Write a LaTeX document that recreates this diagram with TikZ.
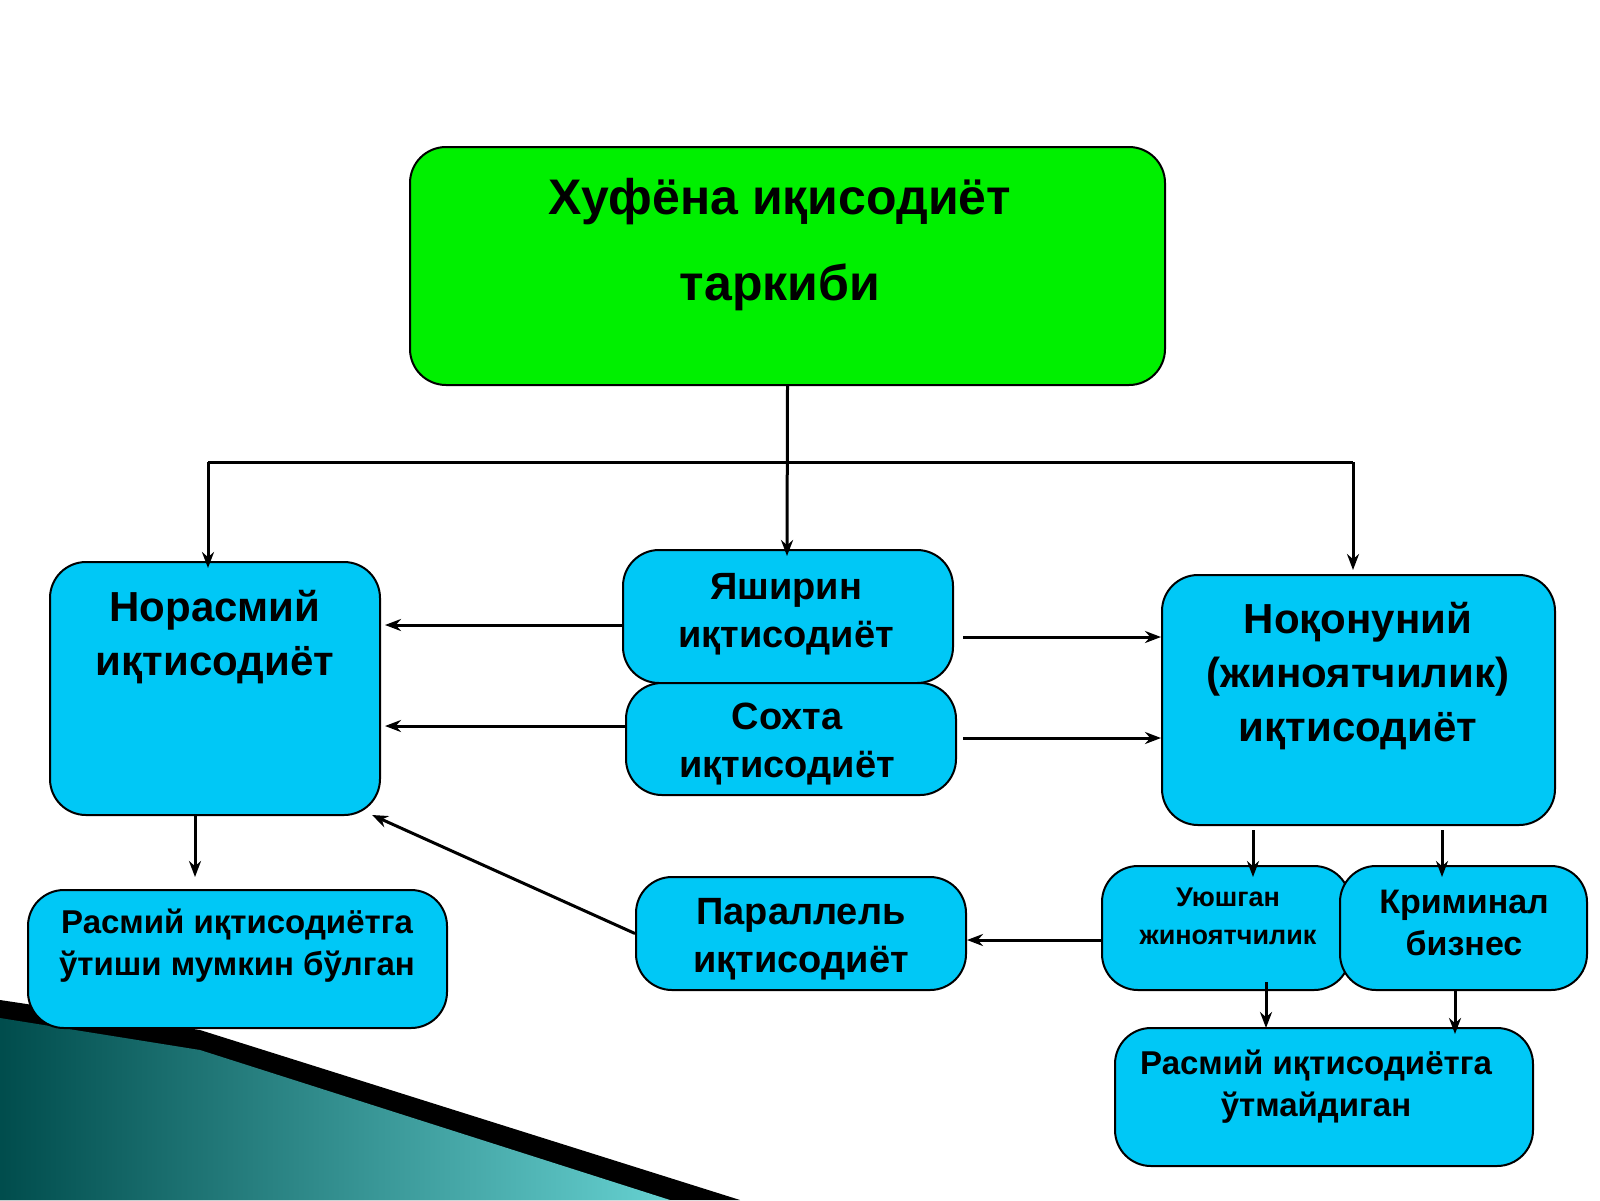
\documentclass[tikz,border=0pt]{standalone}
\usepackage{fontspec}
\setmainfont{Liberation Sans}
\usetikzlibrary{arrows.meta}
\begin{document}
\begin{tikzpicture}[x=0.5pt,y=-0.5pt,
 box/.style={draw=black,line width=1pt,rounded corners=18pt,fill=cyan!75!blue!60!white,fill=boxc,inner sep=0pt},
 txt/.style={font=\bfseries,align=center,inner sep=0pt},
 ar/.style={line width=1.5pt,-{Stealth[length=8pt,width=6pt]}},
 ln/.style={line width=1.5pt}]
\definecolor{boxc}{HTML}{00C8F6}
\definecolor{grn}{HTML}{00F000}
\useasboundingbox (0,0) rectangle (1600,1200);
% background wedge
\fill[black] (0,1000) -- (200,1030) -- (740,1200) -- (0,1200) -- cycle;
\shade[left color=teal!60!black, right color=cyan!40!teal!60] (0,1018) -- (200,1050) -- (670,1200) -- (0,1200) -- cycle;
% boxes
\node[box,fill=grn,minimum width=377.5pt,minimum height=119pt] (top) at (787.5,266) {};
\node[txt,font=\bfseries\fontsize{25}{43}\selectfont] at (780,245) {Хуфёна иқисодиёт\\таркиби};
\node[box,minimum width=165pt,minimum height=126.5pt] (nor) at (215,688.5) {};
\node[txt,font=\bfseries\fontsize{21}{27}\selectfont] at (215,637) {Норасмий\\иқтисодиёт};
\node[box,minimum width=165pt,minimum height=66.5pt] (yash) at (788,616.5) {};
\node[txt,font=\bfseries\fontsize{19}{24}\selectfont] at (786,614) {Яширин\\иқтисодиёт};
\node[box,minimum width=165pt,minimum height=56pt] (soxta) at (791,739) {};
\node[txt,font=\bfseries\fontsize{19}{24}\selectfont] at (787,744) {Сохта\\иқтисодиёт};
\node[box,minimum width=196.5pt,minimum height=125pt] (noq) at (1358.5,700) {};
\node[txt,font=\bfseries\fontsize{21}{27}\selectfont] at (1358,676) {Ноқонуний\\(жиноятчилик)\\иқтисодиёт};
\node[box,minimum width=209.5pt,minimum height=69pt] (rl) at (237.5,959) {};
\node[txt,font=\bfseries\fontsize{16.5}{21}\selectfont] at (237,946) {Расмий иқтисодиётга\\ўтиши мумкин бўлган};
\node[box,minimum width=165pt,minimum height=56.5pt] (par) at (801,933.5) {};
\node[txt,font=\bfseries\fontsize{19}{24}\selectfont] at (801,939) {Параллель\\иқтисодиёт};
\node[box,minimum width=124pt,minimum height=62pt] (uy) at (1226,928) {};
\node[txt,font=\bfseries\fontsize{13.5}{19}\selectfont] at (1228,916) {Уюшган\\жиноятчилик};
\node[box,minimum width=123.5pt,minimum height=62pt] (kr) at (1463.5,928) {};
\node[txt,font=\bfseries\fontsize{17}{21}\selectfont] at (1464,923) {Криминал\\бизнес};
\node[box,minimum width=209pt,minimum height=69pt] (rr) at (1324,1097) {};
\node[txt,font=\bfseries\fontsize{16.5}{21}\selectfont] at (1316,1087) {Расмий иқтисодиётга\\ўтмайдиган};
% connectors
\coordinate (hl) at (208,462); \coordinate (hr) at (1353,462);
\draw[ar] (top.south) -- (787,556);
\draw[ln] (hl) -- (hr);
\draw[ar] (hl) -- (208,568);
\draw[ar] (hr) -- (1353,570);
\draw[ar] (yash.west |- 0,625) -- (385,625);
\draw[ar] (soxta.west |- 0,726) -- (385,726);
\draw[ar] (963,637) -- (noq.west |- 0,637);
\draw[ar] (963,738) -- (noq.west |- 0,738);
\draw[ar] (195,815) -- (195,877);
\draw[ar] (par.west) -- (372,815);
\draw[ar] (uy.west |- 0,940) -- (par.east |- 0,940);
\draw[ar] (1253,830) -- (1253,877);
\draw[ar] (1442,830) -- (1442,877);
\draw[ar] (1266,982) -- (1266,1028);
\draw[ar] (1455,990) -- (1455,1034);
\end{tikzpicture}
\end{document}
